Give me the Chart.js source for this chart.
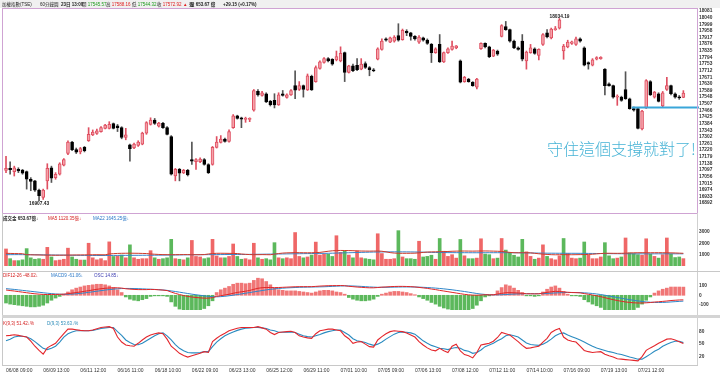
<!DOCTYPE html>
<html><head><meta charset="utf-8">
<script src="https://cdn.jsdelivr.net/npm/chart.js@4.4.0/dist/chart.umd.min.js"></script>
<style>
body{margin:0;width:720px;height:375px;overflow:hidden;background:#fff;position:relative;font-family:"Liberation Sans","Noto Sans CJK TC",sans-serif;}
canvas{position:absolute;left:0;}
.t{position:absolute;white-space:nowrap;font-size:4.5px;line-height:5px;color:#222;}
.ln{position:absolute;pointer-events:none;}
</style></head><body>
<div class="ln" style="left:0;top:0;width:720px;height:8px;background:#f0f0f0"></div>
<canvas id="cPrice" width="720" height="215" style="top:0"></canvas>
<canvas id="cVol" width="720" height="57" style="top:214px"></canvas>
<canvas id="cMacd" width="720" height="43" style="top:272px"></canvas>
<canvas id="cKd" width="720" height="57" style="top:318px"></canvas>

<div class="ln" style="left:2px;top:8px;width:696px;height:206px;border:1px solid #cfa3d3;box-sizing:border-box"></div>
<div class="ln" style="left:2px;top:213px;width:1px;height:152px;background:#c8c8c8"></div>
<div class="ln" style="left:697px;top:213px;width:1px;height:152px;background:#d0d0d0"></div>
<div class="ln" style="left:2px;top:271px;width:718px;height:1px;background:#c8c8c8"></div>
<div class="ln" style="left:2px;top:315px;width:718px;height:3px;background:#d4d4d4"></div>
<div class="ln" style="left:2px;top:365px;width:696px;height:1px;background:#c8c8c8"></div>

<div class="t" style="left:2px;top:1.5px">加權指數(TSE)</div>
<div class="t" style="left:40px;top:1.5px">60分鐘圖</div>
<div class="t" style="left:61px;top:1.5px;font-weight:bold">23日 13:00</div>
<div class="t" style="left:82px;top:1.5px">開 <span style="color:#1a9a1a">17545.57</span></div>
<div class="t" style="left:106px;top:1.5px">高 <span style="color:#e02020">17588.16</span></div>
<div class="t" style="left:132px;top:1.5px">低 <span style="color:#1a9a1a">17544.32</span></div>
<div class="t" style="left:157px;top:1.5px">收 <span style="color:#e02020">17572.92</span></div>
<div class="t" style="left:183px;top:1.5px"><span style="color:#e02020">▲</span> 張</div>
<div class="t" style="left:190px;top:1.5px;font-weight:bold">量 653.67 億</div>
<div class="t" style="left:223px;top:1.5px;font-weight:bold">+29.15 (+0.17%)</div>

<div class="t" style="left:3px;top:216px;font-weight:bold">成交金 653.67億↓</div>
<div class="t" style="left:48px;top:216px;color:#d42020">MA5 1120.35億↓</div>
<div class="t" style="left:93px;top:216px;color:#2a78c8">MA22 1645.25億↓</div>

<div class="t" style="left:3px;top:272.5px;color:#d42020">DIF12-26 -48.02↓</div>
<div class="t" style="left:51px;top:272.5px;color:#2a78c8">MACD9 -61.06↓</div>
<div class="t" style="left:94px;top:272.5px;color:#3a3ab0">OSC 14.85↓</div>

<div class="t" style="left:3px;top:321px;color:#d42020">K(9,3) 51.42↓%</div>
<div class="t" style="left:47px;top:321px;color:#2a8bb8">D(9,3) 53.63↓%</div>

<div class="t" style="left:547px;top:139px;font-size:16px;line-height:18px;color:#48b4d6;font-family:'Noto Sans CJK TC',sans-serif;font-weight:300">守住這個支撐就對了!</div>

<script>
// ---------- DATA ----------
const opens=[17095,17107,17087,17101,17097,17087,17040,17030,16973,16928,
17030,17111,17050,17071,17127,17199,17270,17223,17209,17237,
17278,17314,17323,17335,17355,17355,17384,17371,17359,17298,
17253,17233,17249,17257,17325,17379,17406,17369,17386,17359,
17304,17060,17101,17079,17095,17162,17148,17148,17162,17131,
17131,17237,17268,17288,17274,17359,17432,17420,17410,17410,
17467,17583,17558,17569,17522,17528,17499,17569,17546,17562,
17619,17595,17619,17593,17676,17644,17725,17762,17786,17782,
17778,17772,17823,17701,17741,17745,17721,17756,17731,17717,
17782,17843,17908,17888,17894,17928,17904,17955,17945,17924,
17888,17914,17900,17874,17823,17874,17766,17823,17843,17853,
17772,17644,17660,17640,17609,17847,17880,17859,17802,17833,
17924,17985,17965,17894,17853,17894,17772,17823,17847,17806,
17874,17945,17914,17965,17975,17833,17859,17880,17874,17908,
17853,17762,17745,17782,17786,17721,17630,17619,17548,17548,
17595,17538,17477,17477,17351,17481,17644,17548,17569,17493,
17595,17619,17569,17548,17545.57];
const highs=[17182,17148,17121,17111,17101,17091,17050,17034,16979,16979,
17136,17121,17081,17142,17168,17278,17274,17233,17237,17243,
17359,17345,17351,17365,17379,17396,17388,17379,17365,17355,
17257,17264,17278,17331,17396,17420,17416,17392,17392,17365,
17310,17107,17107,17101,17101,17270,17168,17172,17168,17136,
17243,17304,17310,17294,17345,17440,17436,17424,17424,17420,
17595,17595,17583,17575,17528,17569,17575,17589,17569,17595,
17711,17644,17623,17691,17684,17741,17772,17792,17792,17786,
17833,17859,17827,17745,17752,17786,17786,17766,17737,17725,
17853,17908,17914,17920,17928,18002,17969,17965,17949,17928,
17928,17920,17908,17880,17853,17935,17827,17853,17894,17867,
17778,17676,17664,17644,17664,17884,17884,17863,17843,17839,
17996,18016,17969,17900,17859,17935,17833,17874,17853,17847,
17941,17965,17975,17985,18034.19,17874,17900,17894,17920,17914,
17859,17766,17786,17798,17798,17725,17636,17623,17562,17554,
17705,17542,17487,17481,17467,17656,17650,17583,17575,17583,
17670,17623,17575,17558,17588.16];
const lows=[17081,17071,17060,17081,17071,16979,16969,16965,16907.43,16915,
16979,17020,17040,17066,17123,17192,17217,17199,17197,17209,
17274,17310,17318,17331,17351,17351,17351,17335,17290,17284,
17152,17229,17243,17253,17318,17375,17379,17363,17355,17314,
17066,17030,17030,17075,17060,17131,17101,17142,17127,17075,
17127,17233,17264,17270,17270,17355,17412,17359,17392,17396,
17461,17554,17554,17514,17493,17481,17497,17554,17542,17558,
17538,17589,17548,17589,17589,17640,17721,17758,17766,17745,
17772,17766,17644,17697,17705,17711,17717,17725,17680,17705,
17778,17839,17894,17884,17888,17894,17900,17928,17900,17900,
17880,17894,17874,17762,17819,17762,17762,17819,17839,17847,
17636,17640,17640,17615,17599,17843,17853,17792,17798,17806,
17920,17961,17888,17847,17839,17772,17721,17819,17813,17778,
17867,17914,17908,17961,17969,17782,17853,17874,17867,17888,
17741,17721,17741,17778,17782,17562,17615,17542,17497,17522,
17534,17473,17461,17351,17345,17477,17558,17542,17518,17487,
17589,17562,17542,17534,17544.32];
const closes=[17107,17099,17111,17091,17077,17040,17026,16973,16938,16973,
17107,17046,17071,17136,17162,17270,17223,17207,17229,17217,
17318,17331,17339,17359,17375,17379,17355,17359,17298,17314,
17229,17257,17270,17325,17390,17406,17386,17388,17359,17318,
17071,17101,17077,17095,17066,17152,17162,17164,17131,17081,
17237,17270,17288,17274,17335,17432,17416,17412,17414,17416,
17589,17562,17575,17518,17501,17499,17562,17558,17562,17589,
17591,17619,17595,17680,17593,17731,17766,17786,17772,17752,
17798,17819,17701,17741,17711,17717,17752,17731,17717,17711,
17847,17894,17900,17914,17920,17900,17961,17945,17924,17908,
17920,17900,17880,17823,17847,17766,17823,17847,17863,17865,
17640,17670,17644,17619,17660,17880,17859,17798,17839,17813,
17990,17965,17894,17853,17843,17782,17827,17853,17819,17843,
17935,17920,17969,17971,18026,17863,17888,17890,17908,17894,
17745,17752,17778,17792,17794,17619,17617,17548,17554,17528,
17538,17477,17467,17355,17461,17650,17562,17579,17522,17575,
17619,17569,17548,17543.77,17572.92];
const volumes=[1500,650,480,480,550,1530,725,600,650,600,
1640,800,480,530,600,1570,800,600,530,530,
2000,725,550,650,480,2120,845,890,966,725,
1860,725,600,650,650,1350,725,600,650,725,
2340,650,600,550,725,2245,845,800,650,725,
2340,890,725,725,845,1935,845,600,650,550,
2000,725,600,650,550,2050,725,650,725,650,
2935,845,725,800,966,2100,966,1030,1030,845,
2657,1208,1330,966,725,1330,725,650,600,550,
2830,1100,600,600,650,3100,800,650,650,600,
2174,800,850,950,600,2415,1300,850,1000,700,
2330,900,650,650,700,2390,1050,1000,650,700,
2415,1400,1200,950,800,2340,1250,850,600,700,
1860,850,650,550,900,2415,1100,700,650,700,
2110,950,650,650,800,2050,900,650,700,800,
2460,1150,1100,1000,950,2390,1050,850,700,1000,
2460,1050,750,800,653.67];
const volMA5=[1120,1110,1100,1095,1085,
1000,990,980,975,965,960,955,950,955,960,965,970,975,980,985,990,995,1000,995,990,
1060,1090,1110,1120,1125,1130,1125,1120,1110,1100,
1060,1040,1020,1005,1000,995,1000,1005,1010,1005,1000,995,1000,1010,
1060,1100,1120,1125,1120,1115,1110,1100,
1060,1030,1010,1000,1000,1005,1000,995,
1050,1100,1140,1160,1170,1180,1175,1170,1165,1170,1180,1200,
1250,1300,1340,1365,1370,1365,1360,1350,1330,
1320,1315,1310,1317,1320,1300,1250,
1180,1140,1123,1120,1120,1125,1130,1160,1200,
1230,1244,1250,1260,1270,1280,1300,
1310,1317,1320,1315,1310,1317,1320,1325,1320,1310,1300,1280,
1240,1200,1171,1165,1170,1175,1160,
1120,1080,1050,1020,1000,990,1000,1005,1000,995,1000,1005,1010,1020,1040,
1070,1100,1123,1125,1120,1118,1122,1130,
1150,1165,1171,1175,1170,1168,1172,1175,1170,1165,1160,1150,1135,1120.35];
const volMA22=[1000,1002,1004,1005,1003,1000,998,995,990,985,980,975,970,965,960,955,950,
945,940,935,932,930,930,928,930,932,935,938,940,942,944,945,946,948,950,952,955,958,962,966,970,
975,980,985,990,995,998,1000,1002,1004,1006,1008,1010,1012,1014,1016,1018,1020,1024,1028,1032,1036,1040,1045,1050,
1055,1060,1065,1070,1075,1080,1085,1090,1095,1100,1105,1110,1115,1120,1130,1140,1150,1160,1170,1180,1190,
1200,1210,1220,1230,1235,1240,1244,1246,1248,1248,1246,1244,1240,1235,1230,1220,
1210,1200,1195,1190,1185,1180,1178,1176,1174,1172,1171,1170,1170,1170,1171,1172,1173,1174,1175,1174,1172,1170,1165,1160,
1155,1150,1145,1140,1135,1130,1128,1126,1124,1123,1122,1121,1120,1118,1116,1112,1108,
1104,1100,1096,1092,1088,1085,1082,1080,1078,1076,1075,1075,1074,1074,1075,1076,1077,1078,1078,1077,1076,1075];
const difLine=[56,50,45,39,33,27,21,16,12,9,
8,9,9,10,12,17,23,29,35,42,
49,56,63,69,74,77,79,79,76,69,
65,62,60,60,60,62,61,58,55,50,
34,20,8,-2,-12,-18,-23,-27,-30,-30,
-25,-11,-4,3,11,21,30,37,43,51,
63,74,80,82,82,81,82,84,86,88,
90,91,91,91,91,94,97,99,101,102,
102,103,101,95,91,87,84,81,79,79,
82,86,88,91,93,94,94,93,91,88,
83,78,73,66,60,52,45,38,31,24,
17,10,5,2,1,3,6,5,6,13,
20,27,28,26,24,21,16,16,15,16,
24,31,37,42,40,36,32,29,28,26,
18,11,3,-5,-14,-25,-36,-46,-55,-63,
-70,-75,-79,-81,-81,-79,-76,-71,-68,-64,
-60,-55,-52,-49,-48.02];
const macdLine=[70,66,62,57,52,47,42,37,32,27,
22,18,14,12,10,11,13,16,20,25,
31,37,43,49,55,60,65,69,71,72,
72,71,70,68,66,64,62,59,56,52,
46,40,33,26,19,12,6,0,-6,-11,
-15,-16,-14,-10,-5,1,8,15,22,29,
36,43,50,57,63,68,72,75,78,80,
82,84,85,86,87,88,89,90,92,94,
96,98,99,99,98,96,94,91,88,86,
84,84,84,85,86,87,88,88,88,87,
86,84,82,79,76,72,68,63,58,52,
46,40,33,26,19,13,9,6,5,5,
6,8,11,13,15,16,17,17,17,17,
18,20,22,25,27,29,30,30,29,28,
26,23,19,14,8,1,-7,-15,-23,-31,
-39,-46,-53,-59,-65,-70,-73,-75,-76,-75,
-73,-70,-67,-64,-61.06];
const oscBars=[-14,-16,-17,-18,-19,-20,-21,-21,-20,-18,
-14,-9,-5,-2,2,6,10,13,15,17,
18,19,20,20,19,17,14,10,5,-3,
-7,-9,-10,-8,-6,-2,-1,-1,-1,-2,
-12,-20,-25,-28,-31,-30,-29,-27,-24,-19,
-10,5,10,13,16,20,22,22,21,22,
27,31,30,25,19,13,10,9,8,8,
8,7,6,5,4,6,8,9,9,8,
6,5,2,-4,-7,-9,-10,-10,-9,-7,
-2,2,4,6,7,7,6,5,3,1,
-3,-6,-9,-13,-16,-20,-23,-25,-27,-28,
-29,-30,-28,-24,-18,-10,-3,-1,1,8,
14,19,17,13,9,5,-1,-1,-2,-1,
6,11,15,17,13,7,2,-1,-1,-2,
-8,-12,-16,-19,-22,-26,-29,-31,-32,-32,
-31,-29,-26,-22,-16,-9,-3,4,8,11,
13,15,15,15,14.85];
const kLine=[70,71,72.6,71,69,67,57,45,35,26,
41,47,52,64,75,86,86,84.5,83,82,
82,84,87,90,91,92,87.5,67,55,48,
46,45,52,60,67,72,75,77,75,62,
45,37,28,23,19,22,25,28,32,30,
56,64,71,76,82,85,88,90,90,90,
90,92,89,86,78,73,78,79,80,81,
78,70,67,65,64,75,82,84,86,86,
84,82,70,63,52,55,56,50,44,43,
60,68,75,80,82,81,80,77,72,67,
56,48,41,36,34,40,34,30,45,50,
34,25,22,17,30,48,50,52,57,66,
78,75,72,64,56,47,40,41,43,45,
55,64,78,84,87.5,67,60,57,55,45,
35,32,30,31,32,26,22,19,15,14,
13,12,11,10,20,35,41,46,52,57,
62,63,60,56,51.42];
const dLine=[58,62,67,69,69,67,63,56,48,40,
37,40,45,55,67,75,79,82,82,82,
82,83,85,87.5,89,90,90,80,71,60,
54,49,48.6,52,58,64,70,75,77,70,
60,49,40,34,30,29,29,30,32,32,
44,55,63,70,75,79,83,86,88,89,
90,90,89,87.5,84,82,78.5,78.5,78.5,79,
78,74,70,68,67,70,73,77,80,82,
84,84,78,72,63,58,56,54,50,47,
50,55,62,68,74,78,79,78.5,77,74,
66,58,52,47,44,40,39,37,40,42,
40,35,33,28,30,36,44,48,52,58,
63,70,72.6,70,67,60,53,49,48,47,
50,55,62,70,75,77,72,68,64,60,
55,50,45,41,38,35,32,30,27,25,
22,19,17,14,14,20,26,33,38,45,
50,54,57,57,53.63];
const priceTicks=[18081,18040,17999,17958,17917,17876,17835,17794,17753,17712,17671,17630,17589,17548,17507,17466,17425,17384,17343,17302,17261,17220,17179,17138,17097,17056,17015,16974,16933,16892];
const volTicks=[1000,2000,3000];
const macdTicks=[-100,0,100];
const kdTicks=[20,50,80];
const xTickIdx=[0,9,18,27,36,45,54,63,72,81,90,99,108,117,126,135,144,153];
const xTickLabels=['06/08 09:00','06/09 13:00','06/11 12:00','06/16 11:00','06/18 10:00','06/22 09:00','06/23 13:00','06/25 12:00','06/29 11:00','07/01 10:00','07/05 09:00','07/06 13:00','07/08 12:00','07/12 11:00','07/14 10:00','07/16 09:00','07/19 13:00','07/21 12:00'];
const supportLevel=17487, supportFromIdx=151.5;
const lowMark={i:8,v:16907.43}, highMark={i:134,v:18034.19};

// ---------- STYLE / HELPERS ----------
const idx=closes.map((_,i)=>i);
const X_MIN=-0.97, X_MAX=167.3;
const UP_FILL='#f5a3aa', UP_EDGE='#df4f61', DN_FILL='#000000';
const V_RED='#ef6767', V_GREEN='#5cb85c';
const isUp=idx.map(i=>closes[i]>=opens[i]);
const volUp=idx.map(i=>i===0?closes[0]>=opens[0]:closes[i]>=closes[i-1]);
const tickFont={family:'Liberation Sans',size:4.8,weight:'bold'};
const base={responsive:false,animation:false,devicePixelRatio:1,events:[],
  plugins:{legend:{display:false},tooltip:{enabled:false}}};
function xHidden(){return {type:'linear',min:X_MIN,max:X_MAX,display:false,offset:false};}
function yRight(min,max,ticks){
  return {position:'right',min:min,max:max,
    grid:{display:false,drawTicks:false},border:{display:false},
    ticks:{font:tickFont,color:'#333',padding:2,autoSkip:false,callback:(v)=>String(v)},
    afterFit(s){s.width=23;},
    afterBuildTicks(s){s.ticks=ticks.map(v=>({value:v}));}};
}
const pts=(arr)=>arr.map((v,i)=>({x:i,y:v}));

// ---------- PRICE ----------
const priceMarks={id:'priceMarks',afterDatasetsDraw(chart){
  const ctx=chart.ctx,xs=chart.scales.x,ys=chart.scales.y;
  ctx.save();
  ctx.font='bold 4.8px "Liberation Sans"';ctx.fillStyle='#222';ctx.textAlign='center';
  ctx.textBaseline='top';
  ctx.fillText(lowMark.v.toFixed(2),xs.getPixelForValue(lowMark.i),ys.getPixelForValue(lowMark.v)+0.5);
  ctx.textBaseline='bottom';
  ctx.fillText(highMark.v.toFixed(2),xs.getPixelForValue(highMark.i),ys.getPixelForValue(highMark.v)+0.5);
  const y=Math.round(ys.getPixelForValue(supportLevel))+0.5;
  ctx.strokeStyle='#3aa6d9';ctx.lineWidth=2;ctx.beginPath();
  ctx.moveTo(xs.getPixelForValue(supportFromIdx),y);ctx.lineTo(chart.chartArea.right+2,y);ctx.stroke();
  ctx.restore();
}};
new Chart(document.getElementById('cPrice'),{
  type:'bar',
  data:{datasets:[
    {data:idx.map(i=>({x:i,y:[lows[i],highs[i]]})),backgroundColor:idx.map(i=>isUp[i]?UP_EDGE:'#555'),
     borderWidth:0,barThickness:1,grouped:false,order:2},
    {data:idx.map(i=>({x:i,y:[opens[i],closes[i]]})),backgroundColor:idx.map(i=>isUp[i]?UP_FILL:DN_FILL),
     borderColor:idx.map(i=>isUp[i]?UP_EDGE:DN_FILL),borderWidth:1,borderSkipped:false,
     barThickness:3,minBarLength:1,grouped:false,order:1}
  ]},
  options:Object.assign({},base,{layout:{padding:{left:2,top:9,bottom:2,right:0}},
    scales:{x:xHidden(),y:yRight(16849,18093,priceTicks)}}),
  plugins:[priceMarks]
});

// ---------- VOLUME ----------
new Chart(document.getElementById('cVol'),{
  type:'bar',
  data:{datasets:[
    {type:'line',data:pts(volMA5),borderColor:'#d03a2a',borderWidth:1,pointRadius:0,order:1},
    {type:'line',data:pts(volMA22),borderColor:'#3a82c8',borderWidth:1,pointRadius:0,order:2},
    {data:pts(volumes),backgroundColor:idx.map(i=>volUp[i]?V_RED:V_GREEN),barThickness:3,borderWidth:0,grouped:false,order:3}
  ]},
  options:Object.assign({},base,{layout:{padding:{left:2,top:0,bottom:0,right:0}},
    scales:{x:xHidden(),y:yRight(0,4130,volTicks)}})
});

// ---------- MACD ----------
new Chart(document.getElementById('cMacd'),{
  type:'bar',
  data:{datasets:[
    {type:'line',data:pts(difLine),borderColor:'#e02626',borderWidth:1,pointRadius:0,order:1},
    {type:'line',data:pts(macdLine),borderColor:'#2f86c9',borderWidth:1,pointRadius:0,order:2},
    {data:pts(oscBars),yAxisID:'yo',backgroundColor:oscBars.map(v=>v>=0?'#f07676':'#5cb85c'),barThickness:3,borderWidth:0,grouped:false,order:3}
  ]},
  options:Object.assign({},base,{layout:{padding:{left:2,top:1,bottom:1,right:0}},
    scales:{x:xHidden(),y:yRight(-156,194,macdTicks),
      yo:{display:false,min:-26.9,max:33.4}}})
});

// ---------- KD ----------
new Chart(document.getElementById('cKd'),{
  type:'line',
  data:{datasets:[
    {data:pts(kLine),borderColor:'#e3262c',borderWidth:1.1,pointRadius:0},
    {data:pts(dLine),borderColor:'#2a8bc0',borderWidth:1.1,pointRadius:0}
  ]},
  options:Object.assign({},base,{layout:{padding:{left:2,top:2,bottom:0,right:0}},
    scales:{
      x:{type:'linear',min:X_MIN,max:X_MAX,offset:false,
        grid:{display:false,drawTicks:false},border:{display:false},
        ticks:{font:{family:'Liberation Sans',size:5},color:'#333',padding:3,align:'start',
          maxRotation:0,minRotation:0,autoSkip:false,callback:(v,i)=>xTickLabels[i]},
        afterBuildTicks(s){s.ticks=xTickIdx.map(v=>({value:v}));},
        afterFit(s){s.height=10;}},
      y:yRight(0,101,kdTicks)}})
});
</script>
</body></html>
